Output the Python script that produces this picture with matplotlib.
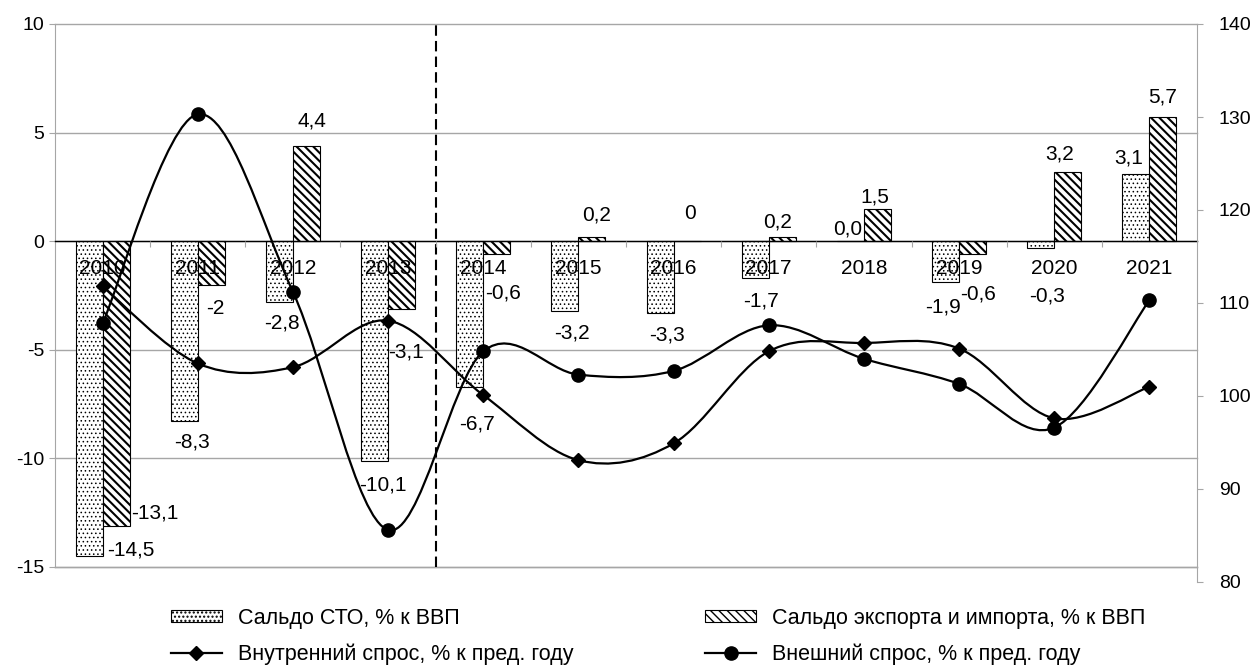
import numpy as np
import matplotlib
matplotlib.use('Agg')
import matplotlib.pyplot as plt
from matplotlib.path import Path
from matplotlib.patches import PathPatch, Patch
from matplotlib.lines import Line2D

plt.rcParams['font.family'] = ['Liberation Sans', 'DejaVu Sans']

# ---------------- data ----------------
years = ['2010', '2011', '2012', '2013', '2014', '2015', '2016', '2017', '2018', '2019', '2020', '2021']
cto = [-14.5, -8.3, -2.8, -10.1, -6.7, -3.2, -3.3, -1.7, 0.0, -1.9, -0.3, 3.1]
trade = [-13.1, -2.0, 4.4, -3.1, -0.6, 0.2, 0.0, 0.2, 1.5, -0.6, 3.2, 5.7]
cto_labels = ['-14,5', '-8,3', '-2,8', '-10,1', '-6,7', '-3,2', '-3,3', '-1,7', '0,0', '-1,9', '-0,3', '3,1']
trade_labels = ['-13,1', '-2', '4,4', '-3,1', '-0,6', '0,2', '0', '0,2', '1,5', '-0,6', '3,2', '5,7']
domestic = [111.8, 103.5, 103.1, 108.1, 100.1, 93.1, 94.9, 104.8, 105.7, 105.1, 97.6, 101.0]
external = [107.8, 130.3, 111.2, 85.6, 104.8, 102.3, 102.7, 107.6, 104.0, 101.3, 96.6, 110.3]

left_ticks = [-15, -10, -5, 0, 5, 10]
right_ticks = [80, 90, 100, 110, 120, 130, 140]

lbl_cto = 'Сальдо СТО, % к ВВП'
lbl_trade = 'Сальдо экспорта и импорта, % к ВВП'
lbl_dom = 'Внутренний спрос, % к пред. году'
lbl_ext = 'Внешний спрос, % к пред. году'

# ---------------- layout / style ----------------
W, H = 1257, 666
PX = 0.72  # px -> pt at 100 dpi
# data label offsets (px) relative to bar end
cto_off = [(42, 6.5), (7.8, -21), (2.6, -21.3), (8.4, -24.3), (7.2, -37.6), (7, -22.6),
           (6.9, -22.4), (5.7, -23), (-2.4, 12), (-2.7, -24.8), (5.9, -47.8), (-7, 16.3)]
trade_off = [(39, 13), (3.6, -24), (5.5, 24.5), (4.6, -43.4), (6.2, -38.9), (5, 21.7),
             (2.7, 28), (-4.3, 14.6), (-2.5, 12), (5.3, -39.5), (-7.8, 18), (0, 20.4)]

GRAY = '#a6a6a6'
DOT_HATCH, DOT_LW = '....', 0.6
DIAG_HATCH, DIAG_LW = '\\\\\\\\', 1.5

fig = plt.figure(figsize=(W / 100, H / 100), dpi=100)
ax1 = fig.add_axes([55 / W, 1 - 567 / H, 1142 / W, 543 / H])
ax2 = fig.add_axes([55 / W, 1 - 582 / H, 1142 / W, 558 / H])
ax2.patch.set_visible(False)

x = np.arange(len(years))
bw = 0.284

with plt.rc_context({'hatch.linewidth': DOT_LW}):
    b1 = ax1.bar(x - bw / 2, cto, bw, color='white', edgecolor='black', hatch=DOT_HATCH, lw=0.8, zorder=1)
with plt.rc_context({'hatch.linewidth': DIAG_LW}):
    b2 = ax1.bar(x + bw / 2, trade, bw, color='white', edgecolor='black', hatch=DIAG_HATCH, lw=0.8, zorder=1)
for p in b1:
    if hasattr(p, 'set_hatch_linewidth'):
        p.set_hatch_linewidth(DOT_LW)
for p in b2:
    if hasattr(p, 'set_hatch_linewidth'):
        p.set_hatch_linewidth(DIAG_LW)

ax1.set_xlim(-0.5, len(years) - 0.5)
ax1.set_ylim(-15, 10)
ax1.set_yticks(left_ticks)
ax1.set_yticklabels([str(t) for t in left_ticks])
ax1.yaxis.grid(True, color=GRAY, lw=1.0)
for gl in ax1.yaxis.get_gridlines():
    gl.set_clip_on(False)
ax1.set_axisbelow(True)
ax1.tick_params(axis='y', length=4.3, color=GRAY, pad=3.4, labelsize=14)

for s in ['top', 'right']:
    ax1.spines[s].set_visible(False)
ax1.spines['left'].set_color(GRAY)
ax1.spines['bottom'].set_position(('data', 0))
ax1.spines['bottom'].set_color('black')
ax1.spines['bottom'].set_linewidth(1.0)
ax1.spines['bottom'].set_zorder(2.6)

ax1.set_xticks(np.arange(0.5, len(years) - 1, 1))
ax1.set_xticklabels([])
ax1.tick_params(axis='x', which='major', length=4, color=GRAY, direction='out')
ax1.set_xticks(x, minor=True)
ax1.set_xticklabels(years, minor=True)
ax1.tick_params(axis='x', which='minor', length=0, pad=13, labelsize=15)
ax1.xaxis.set_zorder(3)

ax1.axhline(-15, color=GRAY, lw=1.0, clip_on=False, zorder=0.5)
ax1.axvline(3.5, color='black', lw=1.5, ls=(0, (5, 2.5)), zorder=3)

for i, (v, s, (dx, dy)) in enumerate(zip(cto, cto_labels, cto_off)):
    ax1.annotate(s, (x[i] - bw / 2, v), xytext=(dx * PX, dy * PX), textcoords='offset points',
                 ha='center', va='center', fontsize=15, zorder=5)
for i, (v, s, (dx, dy)) in enumerate(zip(trade, trade_labels, trade_off)):
    ax1.annotate(s, (x[i] + bw / 2, v), xytext=(dx * PX, dy * PX), textcoords='offset points',
                 ha='center', va='center', fontsize=15, zorder=5)


def smooth_path(xs, ys):
    P = np.column_stack([xs, ys]).astype(float)
    n = len(P)
    verts = [P[0]]
    codes = [Path.MOVETO]
    for i in range(n - 1):
        p0 = P[max(i - 1, 0)]
        p1 = P[i]
        p2 = P[i + 1]
        p3 = P[min(i + 2, n - 1)]
        c1 = p1 + (p2 - p0) / 6.0
        c2 = p2 - (p3 - p1) / 6.0
        verts += [c1, c2, p2]
        codes += [Path.CURVE4] * 3
    return Path(verts, codes)


ax2.set_xlim(-0.5, len(years) - 0.5)
ax2.set_ylim(80, 140)
ax2.add_patch(PathPatch(smooth_path(x, domestic), fill=False, edgecolor='black', lw=1.6, zorder=3))
ax2.add_patch(PathPatch(smooth_path(x, external), fill=False, edgecolor='black', lw=1.6, zorder=3))
ax2.plot(x, domestic, ls='none', marker='D', ms=7.5, color='black', zorder=4)
ax2.plot(x, external, ls='none', marker='o', ms=9.5, color='black', zorder=4)

for s in ['top', 'left', 'bottom']:
    ax2.spines[s].set_visible(False)
ax2.spines['right'].set_color(GRAY)
ax2.set_xticks([])
ax2.yaxis.tick_right()
ax2.set_yticks(right_ticks)
ax2.set_yticklabels([str(t) for t in right_ticks])
ax2.tick_params(axis='y', length=4.3, color=GRAY, pad=11.5, labelsize=14)

# ---------------- legend ----------------
with plt.rc_context({'hatch.linewidth': DOT_LW}):
    h_cto = Patch(facecolor='white', edgecolor='black', hatch=DOT_HATCH, lw=0.8)
with plt.rc_context({'hatch.linewidth': DIAG_LW}):
    h_trade = Patch(facecolor='white', edgecolor='black', hatch=DIAG_HATCH, lw=0.8)
for h, lw in ((h_cto, DOT_LW), (h_trade, DIAG_LW)):
    if hasattr(h, 'set_hatch_linewidth'):
        h.set_hatch_linewidth(lw)
h_dom = Line2D([], [], color='black', lw=1.6, marker='D', ms=7.5)
h_ext = Line2D([], [], color='black', lw=1.6, marker='o', ms=9.5)

common = dict(loc='center left', frameon=False, borderpad=0, borderaxespad=0,
              handlelength=2.37, handleheight=0.5, handletextpad=0.74,
              labelspacing=0.69, fontsize=15.5, numpoints=1)
fig.legend([h_cto, h_dom], [lbl_cto, lbl_dom], bbox_to_anchor=(170.7 / W, 1 - 636.5 / H), **common)
fig.legend([h_trade, h_ext], [lbl_trade, lbl_ext], bbox_to_anchor=(705 / W, 1 - 636.5 / H), **common)

fig.savefig('out.png', dpi=100)
